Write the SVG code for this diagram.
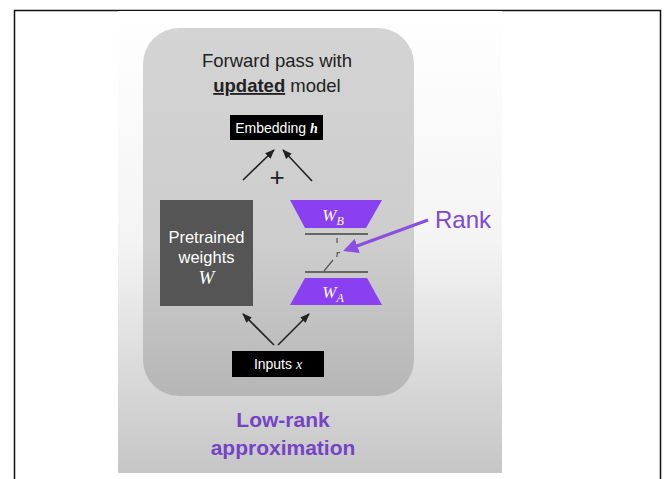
<svg xmlns="http://www.w3.org/2000/svg" width="666" height="479" viewBox="0 0 666 479">
<defs>
<linearGradient id="panelG" x1="0" y1="0" x2="0" y2="1">
<stop offset="0" stop-color="#ffffff"/>
<stop offset="0.5" stop-color="#f4f4f4"/>
<stop offset="1" stop-color="#c6c6c6"/>
</linearGradient>
<linearGradient id="boxG" x1="0" y1="0" x2="0" y2="1">
<stop offset="0" stop-color="#d4d4d4"/>
<stop offset="0.6" stop-color="#cdcdcd"/>
<stop offset="1" stop-color="#b6b6b6"/>
</linearGradient>
<marker id="ah" viewBox="0 0 10 10" refX="9" refY="5" markerWidth="6" markerHeight="6" orient="auto">
<path d="M0,1 L10,5 L0,9 z" fill="#222"/>
</marker>
<marker id="ahp" viewBox="0 0 10 10" refX="8" refY="5" markerWidth="5" markerHeight="5" orient="auto">
<path d="M0,0 L10,5 L0,10 z" fill="#8a4ee0"/>
</marker>
</defs>
<style>
.sans{font-family:"Liberation Sans",Arial,sans-serif}
.serif{font-family:"Liberation Serif","Times New Roman",serif;font-style:italic}
.conn{stroke:#222;stroke-width:1.6;fill:none}
.purp{fill:#8a40f0}
.thin{stroke:#555;stroke-width:1.2;fill:none}
</style>
<rect x="0" y="0" width="666" height="479" fill="#ffffff"/>
<rect x="14.5" y="10.5" width="646" height="480" fill="none" stroke="#111" stroke-width="1.5"/>
<rect x="118" y="11" width="384" height="462" fill="url(#panelG)"/>
<rect x="143" y="28" width="271" height="368" rx="36" fill="url(#boxG)"/>
<g id="title">
<text class="sans" x="277" y="67" font-size="18.5" fill="#222" text-anchor="middle">Forward pass with</text>
<text class="sans" x="277" y="92" font-size="18.5" fill="#222" text-anchor="middle"><tspan font-weight="bold" text-decoration="underline">updated</tspan> model</text>
</g>
<g id="embedding">
<rect x="230" y="115" width="93" height="25" fill="#000"/>
<text class="sans" x="276.5" y="132.5" font-size="14" fill="#fff" text-anchor="middle">Embedding <tspan class="serif" font-weight="bold">h</tspan></text>
</g>
<g id="pretrained">
<rect x="160" y="200" width="93" height="106" fill="#555555"/>
<text class="sans" x="206.5" y="243" font-size="16.5" fill="#fff" text-anchor="middle">Pretrained</text>
<text class="sans" x="206.5" y="263" font-size="16.5" fill="#fff" text-anchor="middle">weights</text>
<text class="serif" x="206.5" y="284" font-size="19" fill="#fff" text-anchor="middle">W</text>
</g>
<g id="wb">
<polygon class="purp" points="290,200 382,200 366,228 305,228"/>
<text class="serif" x="333" y="221" font-size="17" fill="#fff" text-anchor="middle">W<tspan font-size="12" dy="4">B</tspan></text>
</g>
<g id="wa">
<polygon class="purp" points="305,278 367,278 382,305 290,305"/>
<text class="serif" x="333" y="298" font-size="17" fill="#fff" text-anchor="middle">W<tspan font-size="12" dy="4">A</tspan></text>
</g>
<g id="rank-bottleneck">
<line x1="305" y1="234" x2="368" y2="234" stroke="#666" stroke-width="2"/>
<line x1="305" y1="272" x2="368" y2="272" stroke="#666" stroke-width="2"/>
<line x1="337" y1="238" x2="337" y2="243" class="thin"/>
<line x1="324" y1="271" x2="333" y2="260" class="thin"/>
<text class="serif" x="338" y="257" font-size="11" fill="#333" text-anchor="middle">r</text>
</g>
<g id="inputs">
<rect x="232" y="351" width="92" height="26" fill="#000"/>
<text class="sans" x="278" y="369" font-size="14" fill="#fff" text-anchor="middle">Inputs <tspan class="serif">x</tspan></text>
</g>
<g id="rank-label">
<text class="sans" x="435" y="228" font-size="24" fill="#7d48d4">Rank</text>
</g>
<g id="caption">
<text class="sans" x="283" y="427" font-size="21" font-weight="bold" fill="#7444c4" text-anchor="middle">Low-rank</text>
<text class="sans" x="283" y="455" font-size="21" font-weight="bold" fill="#7444c4" text-anchor="middle">approximation</text>
</g>
<g id="connectors">
<line class="conn" x1="243" y1="180" x2="274" y2="150" marker-end="url(#ah)"/>
<line class="conn" x1="312" y1="181" x2="283" y2="150" marker-end="url(#ah)"/>
<text class="sans" x="277" y="186" font-size="26" fill="#222" text-anchor="middle">+</text>
<line class="conn" x1="274" y1="345" x2="243" y2="314" marker-end="url(#ah)"/>
<line class="conn" x1="278" y1="345" x2="309" y2="314" marker-end="url(#ah)"/>
<line x1="428" y1="220" x2="346" y2="250" stroke="#8a4ee0" stroke-width="3" marker-end="url(#ahp)"/>
</g>
</svg>
